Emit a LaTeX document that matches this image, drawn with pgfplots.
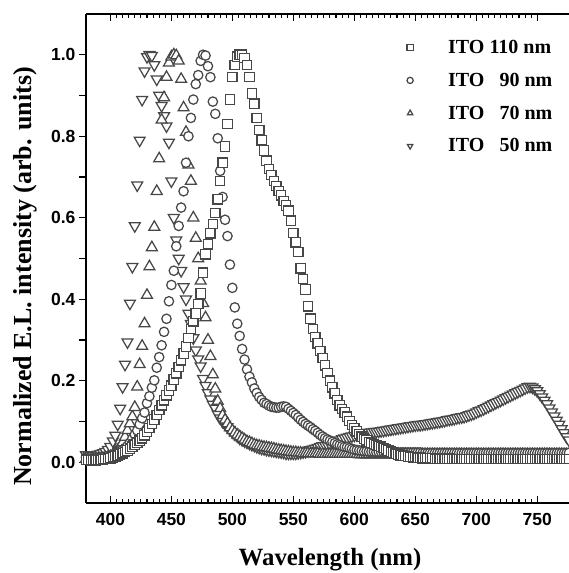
\documentclass[border=0pt]{standalone}
\usepackage{fontspec}
\setmainfont{Liberation Serif}
\setsansfont{Liberation Sans}
\usepackage{pgfplots}
\usepackage{pgfplotstable}
\pgfplotsset{compat=1.18}

% normalized EL spectra, columns: 110 nm, 90 nm, 70 nm, 50 nm ITO
\pgfplotstableread{
x a b c d
380 0.006 0.012 0.008 0.018
382 0.006 0.013 0.007 0.018
384 0.005 0.013 0.006 0.017
386 0.005 0.012 0.006 0.017
388 0.005 0.012 0.006 0.018
390 0.006 0.012 0.007 0.019
392 0.006 0.012 0.008 0.021
394 0.007 0.013 0.009 0.023
396 0.008 0.014 0.011 0.026
398 0.009 0.015 0.013 0.031
400 0.010 0.016 0.014 0.038
402 0.012 0.018 0.018 0.052
404 0.014 0.020 0.023 0.066
406 0.016 0.023 0.030 0.093
408 0.019 0.027 0.037 0.132
410 0.022 0.031 0.048 0.185
412 0.025 0.035 0.062 0.240
414 0.029 0.040 0.078 0.295
416 0.033 0.048 0.095 0.390
418 0.038 0.058 0.112 0.480
420 0.043 0.068 0.135 0.580
422 0.048 0.078 0.185 0.680
424 0.053 0.093 0.240 0.790
426 0.059 0.108 0.285 0.890
428 0.066 0.122 0.340 0.960
430 0.075 0.145 0.410 0.995
432 0.084 0.162 0.480 1.000
434 0.094 0.183 0.527 0.998
436 0.105 0.201 0.577 0.975
438 0.116 0.232 0.665 0.940
440 0.128 0.258 0.745 0.900
442 0.140 0.287 0.840 0.875
444 0.152 0.320 0.895 0.850
446 0.164 0.352 0.945 0.825
448 0.176 0.395 0.980 0.785
450 0.188 0.435 0.995 0.690
452 0.203 0.470 1.000 0.600
454 0.218 0.530 0.998 0.545
456 0.234 0.580 0.985 0.500
458 0.250 0.625 0.940 0.470
460 0.267 0.665 0.870 0.430
462 0.284 0.735 0.810 0.400
464 0.305 0.800 0.730 0.365
466 0.327 0.845 0.690 0.340
468 0.346 0.890 0.600 0.305
470 0.365 0.928 0.550 0.275
472 0.388 0.950 0.500 0.253
474 0.414 0.985 0.445 0.236
476 0.465 1.000 0.390 0.205
478 0.510 0.998 0.355 0.188
480 0.535 0.972 0.300 0.170
482 0.562 0.945 0.260 0.155
484 0.585 0.885 0.215 0.142
486 0.612 0.855 0.180 0.132
488 0.645 0.795 0.150 0.118
490 0.690 0.715 0.132 0.108
492 0.735 0.651 0.115 0.100
494 0.775 0.595 0.104 0.093
496 0.830 0.555 0.095 0.087
498 0.890 0.485 0.085 0.080
500 0.945 0.428 0.078 0.074
502 0.975 0.380 0.072 0.069
504 0.995 0.340 0.067 0.064
506 1.000 0.310 0.063 0.059
508 1.000 0.278 0.059 0.055
510 0.992 0.252 0.055 0.052
512 0.975 0.228 0.051 0.049
514 0.945 0.210 0.049 0.046
516 0.905 0.196 0.046 0.043
518 0.880 0.181 0.043 0.041
520 0.845 0.170 0.041 0.038
522 0.815 0.160 0.040 0.036
524 0.790 0.153 0.038 0.034
526 0.765 0.146 0.037 0.033
528 0.740 0.143 0.036 0.031
530 0.720 0.139 0.035 0.030
532 0.705 0.136 0.034 0.029
534 0.690 0.135 0.033 0.028
536 0.678 0.134 0.031 0.027
538 0.666 0.134 0.030 0.026
540 0.655 0.136 0.029 0.025
542 0.641 0.137 0.028 0.024
544 0.630 0.136 0.027 0.022
546 0.617 0.131 0.026 0.022
548 0.593 0.126 0.025 0.022
550 0.563 0.121 0.024 0.022
552 0.540 0.116 0.024 0.022
554 0.516 0.110 0.023 0.023
556 0.476 0.104 0.023 0.024
558 0.450 0.099 0.022 0.025
560 0.424 0.094 0.022 0.026
562 0.383 0.090 0.022 0.028
564 0.352 0.086 0.021 0.030
566 0.327 0.081 0.021 0.032
568 0.307 0.077 0.021 0.034
570 0.292 0.072 0.021 0.036
572 0.273 0.067 0.020 0.038
574 0.256 0.063 0.020 0.040
576 0.238 0.059 0.020 0.041
578 0.219 0.056 0.020 0.042
580 0.200 0.053 0.020 0.044
582 0.184 0.050 0.020 0.047
584 0.169 0.047 0.020 0.049
586 0.153 0.044 0.020 0.051
588 0.140 0.042 0.020 0.054
590 0.131 0.040 0.020 0.057
592 0.122 0.038 0.020 0.059
594 0.112 0.037 0.020 0.061
596 0.101 0.035 0.020 0.063
598 0.091 0.033 0.020 0.064
600 0.084 0.031 0.020 0.066
602 0.076 0.030 0.020 0.067
604 0.069 0.029 0.019 0.068
606 0.063 0.028 0.019 0.069
608 0.058 0.027 0.019 0.071
610 0.054 0.027 0.019 0.072
612 0.050 0.026 0.019 0.073
614 0.047 0.026 0.019 0.074
616 0.045 0.026 0.019 0.075
618 0.042 0.025 0.019 0.075
620 0.040 0.025 0.019 0.076
622 0.038 0.025 0.019 0.077
624 0.035 0.025 0.019 0.078
626 0.032 0.025 0.019 0.079
628 0.029 0.024 0.019 0.080
630 0.026 0.024 0.019 0.081
632 0.024 0.024 0.019 0.082
634 0.021 0.024 0.019 0.083
636 0.019 0.024 0.019 0.084
638 0.017 0.024 0.019 0.085
640 0.016 0.024 0.019 0.086
642 0.015 0.024 0.019 0.087
644 0.014 0.024 0.019 0.088
646 0.013 0.024 0.019 0.089
648 0.012 0.024 0.019 0.090
650 0.012 0.024 0.019 0.091
652 0.011 0.024 0.019 0.092
654 0.011 0.024 0.019 0.092
656 0.010 0.023 0.019 0.093
658 0.010 0.023 0.019 0.094
660 0.010 0.023 0.019 0.095
662 0.010 0.023 0.019 0.096
664 0.010 0.023 0.019 0.097
666 0.009 0.023 0.019 0.098
668 0.009 0.023 0.019 0.099
670 0.009 0.023 0.019 0.100
672 0.009 0.023 0.019 0.101
674 0.009 0.023 0.019 0.102
676 0.009 0.023 0.019 0.104
678 0.009 0.023 0.019 0.105
680 0.008 0.023 0.019 0.106
682 0.008 0.023 0.019 0.107
684 0.008 0.023 0.019 0.109
686 0.008 0.023 0.019 0.110
688 0.008 0.023 0.019 0.111
690 0.008 0.023 0.019 0.112
692 0.008 0.023 0.019 0.114
694 0.008 0.023 0.019 0.116
696 0.008 0.023 0.019 0.118
698 0.008 0.023 0.019 0.120
700 0.008 0.023 0.019 0.123
702 0.008 0.023 0.019 0.126
704 0.008 0.023 0.019 0.128
706 0.008 0.023 0.019 0.131
708 0.008 0.023 0.019 0.134
710 0.008 0.023 0.019 0.137
712 0.008 0.023 0.019 0.140
714 0.008 0.023 0.019 0.143
716 0.008 0.023 0.019 0.146
718 0.008 0.023 0.019 0.149
720 0.008 0.023 0.019 0.152
722 0.008 0.023 0.019 0.155
724 0.008 0.023 0.019 0.158
726 0.008 0.023 0.019 0.161
728 0.008 0.023 0.019 0.164
730 0.008 0.023 0.019 0.167
732 0.008 0.023 0.019 0.170
734 0.008 0.023 0.019 0.173
736 0.008 0.023 0.019 0.176
738 0.008 0.023 0.019 0.179
740 0.008 0.023 0.019 0.182
742 0.008 0.023 0.019 0.185
744 0.008 0.023 0.019 0.186
746 0.008 0.023 0.019 0.184
748 0.008 0.023 0.019 0.180
750 0.008 0.023 0.019 0.175
752 0.008 0.023 0.019 0.168
754 0.008 0.023 0.019 0.160
756 0.008 0.023 0.019 0.152
758 0.008 0.023 0.019 0.143
760 0.008 0.023 0.019 0.133
762 0.008 0.023 0.019 0.123
764 0.008 0.023 0.019 0.113
766 0.008 0.023 0.019 0.103
768 0.008 0.023 0.019 0.093
770 0.008 0.023 0.019 0.082
772 0.008 0.023 0.019 0.072
774 0.008 0.023 0.019 0.062
776 0.008 0.023 0.019 0.054
}\spectra

\begin{document}
\begin{tikzpicture}
\begin{axis}[
  width=483pt, height=489pt, scale only axis,
  xmin=380, xmax=776, ymin=-0.1, ymax=1.1,
  axis x line*=box, axis y line*=left,
  axis line style={line width=1.2pt},
  xtick align=inside, ytick align=outside,
  xtick pos=both,
  major tick length=7pt, minor tick length=4pt,
  tick style={black, line width=1.1pt},
  xtick={400,450,500,550,600,650,700,750},
  xticklabels={400,450,500,550,600,650,700,750},
  minor x tick num=9,
  ytick={0,0.1,0.2,0.3,0.4,0.5,0.6,0.7,0.8,0.9,1.0},
  yticklabels={0.0,{},0.2,{},0.4,{},0.6,{},0.8,{},1.0},
  tick label style={font=\sffamily\bfseries\fontsize{17.5}{19}\selectfont},
  xticklabel style={yshift=-7pt},
  xlabel={Wavelength (nm)},
  ylabel={Normalized E.L. intensity (arb. units)},
  xlabel style={font=\bfseries\fontsize{24.8}{28}\selectfont, inner sep=0pt,
    at={(axis description cs:0.5052,-0.1288)}, anchor=base},
  ylabel style={font=\bfseries\fontsize{26}{30}\selectfont, inner sep=0pt,
    at={(axis description cs:-0.1124,0.4632)}, anchor=base},
  mark options={draw=black!72, fill=white, line width=1.25pt},
  reverse legend,
  legend cell align=left,
  legend style={draw=none, fill=none, at={(rel axis cs:0.658,0.955)}, anchor=north west,
    font=\bfseries\fontsize{20}{22}\selectfont, row sep=14pt},
  legend image post style={mark size=3.1pt, line width=0.8pt},
]
\addplot[only marks, mark=triangle*, mark size=6.3pt,
  mark options={draw=black!72, fill=white, line width=1.25pt, rotate=180}] table[x=x, y=d] {\spectra};
\addlegendentry{\hspace{33pt}ITO \phantom{1}50 nm}
\addplot[only marks, mark=triangle*, mark size=6.3pt] table[x=x, y=c] {\spectra};
\addlegendentry{\hspace{33pt}ITO \phantom{1}70 nm}
\addplot[only marks, mark=*, mark size=4.7pt] table[x=x, y=b] {\spectra};
\addlegendentry{\hspace{33pt}ITO \phantom{1}90 nm}
\addplot[only marks, mark=square*, mark size=4.7pt] table[x=x, y=a] {\spectra};
\addlegendentry{\hspace{33pt}ITO 110 nm}
\end{axis}
\pgfresetboundingbox
\path ([shift={(-86pt,-70pt)}]current axis.south west) rectangle ([yshift=14pt]current axis.north east);
\end{tikzpicture}
\end{document}
